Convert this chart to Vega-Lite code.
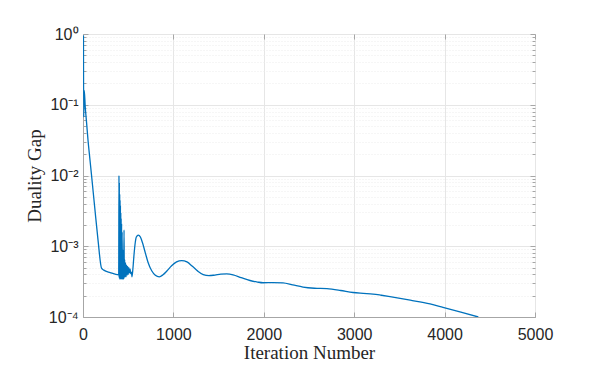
{
  "$schema": "https://vega.github.io/schema/vega-lite/v6.json",
  "width": 452,
  "height": 283,
  "autosize": {"type": "none"},
  "padding": {"left": 83, "top": 34, "right": 63, "bottom": 53},
  "background": "white",
  "config": {
    "view": {"stroke": "#a6a6a6", "strokeWidth": 1},
    "axis": {
      "labelFont": "Liberation Sans",
      "labelFontSize": 16,
      "labelColor": "#262626",
      "titleFont": "Liberation Serif",
      "titleFontSize": 19,
      "titleFontWeight": "normal",
      "titleColor": "#262626",
      "domainColor": "#a6a6a6",
      "tickColor": "#a6a6a6",
      "gridColor": "#e6e6e6"
    }
  },
  "data": {
    "values": [
      {"iter": 5, "gap": 0.95},
      {"iter": 8, "gap": 0.067},
      {"iter": 14, "gap": 0.16},
      {"iter": 25, "gap": 0.093},
      {"iter": 40, "gap": 0.055},
      {"iter": 55, "gap": 0.032},
      {"iter": 75, "gap": 0.0177},
      {"iter": 92, "gap": 0.0108},
      {"iter": 130, "gap": 0.0035},
      {"iter": 166, "gap": 0.00123},
      {"iter": 205, "gap": 0.00049},
      {"iter": 230, "gap": 0.00046},
      {"iter": 300, "gap": 0.000425},
      {"iter": 395, "gap": 0.000395},
      {"iter": 398, "gap": 0.01},
      {"iter": 400, "gap": 0.00036},
      {"iter": 402, "gap": 0.008},
      {"iter": 404, "gap": 0.00035},
      {"iter": 406, "gap": 0.0055},
      {"iter": 408, "gap": 0.00034},
      {"iter": 410, "gap": 0.0045},
      {"iter": 412, "gap": 0.00035},
      {"iter": 414, "gap": 0.0038},
      {"iter": 416, "gap": 0.00034},
      {"iter": 418, "gap": 0.003},
      {"iter": 420, "gap": 0.00035},
      {"iter": 422, "gap": 0.0025},
      {"iter": 424, "gap": 0.00034},
      {"iter": 427, "gap": 0.0021},
      {"iter": 430, "gap": 0.00035},
      {"iter": 433, "gap": 0.0016},
      {"iter": 436, "gap": 0.00034},
      {"iter": 439, "gap": 0.0009},
      {"iter": 442, "gap": 0.00035},
      {"iter": 446, "gap": 0.00075},
      {"iter": 450, "gap": 0.00034},
      {"iter": 454, "gap": 0.0017},
      {"iter": 457, "gap": 0.00036},
      {"iter": 461, "gap": 0.00065},
      {"iter": 466, "gap": 0.00037},
      {"iter": 471, "gap": 0.00058},
      {"iter": 476, "gap": 0.00037},
      {"iter": 482, "gap": 0.00054},
      {"iter": 488, "gap": 0.00039},
      {"iter": 494, "gap": 0.00052},
      {"iter": 500, "gap": 0.0004},
      {"iter": 507, "gap": 0.0005},
      {"iter": 514, "gap": 0.00042},
      {"iter": 521, "gap": 0.00048},
      {"iter": 528, "gap": 0.00041},
      {"iter": 535, "gap": 0.00043},
      {"iter": 542, "gap": 0.00037},
      {"iter": 552, "gap": 0.00048},
      {"iter": 562, "gap": 0.0007},
      {"iter": 575, "gap": 0.00105},
      {"iter": 590, "gap": 0.00135},
      {"iter": 612, "gap": 0.00144},
      {"iter": 635, "gap": 0.00135},
      {"iter": 660, "gap": 0.0011},
      {"iter": 690, "gap": 0.0008},
      {"iter": 720, "gap": 0.00059},
      {"iter": 760, "gap": 0.00045},
      {"iter": 800, "gap": 0.00039},
      {"iter": 844, "gap": 0.00037},
      {"iter": 885, "gap": 0.000395},
      {"iter": 930, "gap": 0.00045},
      {"iter": 980, "gap": 0.00053},
      {"iter": 1035, "gap": 0.0006},
      {"iter": 1092, "gap": 0.000625},
      {"iter": 1150, "gap": 0.0006},
      {"iter": 1210, "gap": 0.00052},
      {"iter": 1270, "gap": 0.000445},
      {"iter": 1330, "gap": 0.000398},
      {"iter": 1394, "gap": 0.000384},
      {"iter": 1460, "gap": 0.000392},
      {"iter": 1525, "gap": 0.000403},
      {"iter": 1590, "gap": 0.000406},
      {"iter": 1660, "gap": 0.000395},
      {"iter": 1750, "gap": 0.00036},
      {"iter": 1847, "gap": 0.000328},
      {"iter": 1930, "gap": 0.000312},
      {"iter": 1991, "gap": 0.000305},
      {"iter": 2100, "gap": 0.000306},
      {"iter": 2212, "gap": 0.000303},
      {"iter": 2320, "gap": 0.000284},
      {"iter": 2434, "gap": 0.000265},
      {"iter": 2560, "gap": 0.000255},
      {"iter": 2699, "gap": 0.000251},
      {"iter": 2850, "gap": 0.000237},
      {"iter": 2987, "gap": 0.000222},
      {"iter": 3100, "gap": 0.000216},
      {"iter": 3208, "gap": 0.000211},
      {"iter": 3300, "gap": 0.000203},
      {"iter": 3396, "gap": 0.000194},
      {"iter": 3620, "gap": 0.000173},
      {"iter": 3839, "gap": 0.000153},
      {"iter": 3982, "gap": 0.000137},
      {"iter": 4180, "gap": 0.000117},
      {"iter": 4373, "gap": 0.0001}
    ]
  },
  "resolve": {"axis": {"x": "independent", "y": "independent"}},
  "layer": [
    {
      "mark": {"type": "line", "color": "#0072BD", "strokeWidth": 1.3, "interpolate": "monotone", "clip": true},
      "encoding": {
        "x": {
          "field": "iter",
          "type": "quantitative",
          "scale": {"domain": [0, 5000], "nice": false},
          "axis": {
            "orient": "bottom",
            "title": "Iteration Number",
            "values": [0, 1000, 2000, 3000, 4000, 5000],
            "format": "d",
            "grid": true,
            "tickSize": -5,
            "labelPadding": 14,
            "titlePadding": 1,
            "labelFlush": false,
            "labelOverlap": false
          }
        },
        "y": {
          "field": "gap",
          "type": "quantitative",
          "scale": {"type": "log", "domain": [0.0001, 1], "nice": false},
          "axis": {
            "orient": "left",
            "title": "Duality Gap",
            "values": [0.0001, 0.0002, 0.0003, 0.0004, 0.0005, 0.0006, 0.0007, 0.0008, 0.0009, 0.001, 0.002, 0.003, 0.004, 0.005, 0.006, 0.007, 0.008, 0.009, 0.01, 0.02, 0.03, 0.04, 0.05, 0.06, 0.07, 0.08, 0.09, 0.1, 0.2, 0.3, 0.4, 0.5, 0.6, 0.7, 0.8, 0.9, 1],
            "labelExpr": "abs(log(datum.value)/LN10 - round(log(datum.value)/LN10)) < 0.000001 ? (round(log(datum.value)/LN10) == 0 ? '10⁰' : round(log(datum.value)/LN10) == -1 ? '10⁻¹' : round(log(datum.value)/LN10) == -2 ? '10⁻²' : round(log(datum.value)/LN10) == -3 ? '10⁻³' : '10⁻⁴') : ''",
            "labelOverlap": false,
            "labelFlush": false,
            "grid": true,
            "gridDash": {"condition": {"test": "abs(log(datum.value)/LN10 - round(log(datum.value)/LN10)) < 0.000001", "value": []}, "value": [1, 2]},
            "gridColor": {"condition": {"test": "abs(log(datum.value)/LN10 - round(log(datum.value)/LN10)) < 0.000001", "value": "#e6e6e6"}, "value": "#ededed"},
            "tickSize": {"condition": {"test": "abs(log(datum.value)/LN10 - round(log(datum.value)/LN10)) < 0.000001", "value": -5}, "value": -3},
            "labelPadding": 10,
            "titlePadding": 4
          }
        }
      }
    },
    {
      "mark": {"type": "line", "strokeOpacity": 0, "clip": true},
      "encoding": {
        "x": {
          "field": "iter",
          "type": "quantitative",
          "scale": {"domain": [0, 5000], "nice": false},
          "axis": {
            "orient": "top",
            "title": null,
            "labels": false,
            "domain": false,
            "grid": false,
            "values": [0, 1000, 2000, 3000, 4000, 5000],
            "tickSize": -5
          }
        },
        "y": {
          "field": "gap",
          "type": "quantitative",
          "scale": {"type": "log", "domain": [0.0001, 1], "nice": false},
          "axis": {
            "orient": "right",
            "title": null,
            "labels": false,
            "domain": false,
            "grid": false,
            "values": [0.0001, 0.0002, 0.0003, 0.0004, 0.0005, 0.0006, 0.0007, 0.0008, 0.0009, 0.001, 0.002, 0.003, 0.004, 0.005, 0.006, 0.007, 0.008, 0.009, 0.01, 0.02, 0.03, 0.04, 0.05, 0.06, 0.07, 0.08, 0.09, 0.1, 0.2, 0.3, 0.4, 0.5, 0.6, 0.7, 0.8, 0.9, 1],
            "tickSize": {"condition": {"test": "abs(log(datum.value)/LN10 - round(log(datum.value)/LN10)) < 0.000001", "value": -5}, "value": -3}
          }
        }
      }
    }
  ]
}
